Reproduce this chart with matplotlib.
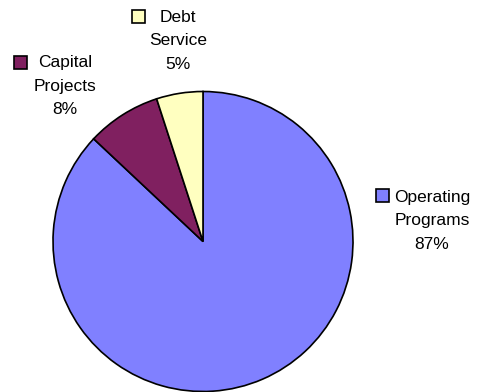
import matplotlib
matplotlib.use("Agg")
import matplotlib.pyplot as plt
from matplotlib.patches import Rectangle

categories = [["Operating", "Programs"], ["Capital", "Projects"], ["Debt", "Service"]]
shares = [87, 8, 5]
colors = ["#8080FF", "#802060", "#FFFFC0"]

W, H = 484, 392
fig = plt.figure(figsize=(W / 100, H / 100), dpi=100)
fig.patch.set_facecolor("white")

def fx(px):
    return px / W

def fy(py):
    return 1 - py / H

# pie axes: centre (203, 241.5), radius 150 px
cx, cy, r = 203, 241.5, 150
ax = fig.add_axes([fx(cx - r), fy(cy + r), 2 * r / W, 2 * r / H])
ax.pie(shares, colors=colors, startangle=90, counterclock=False,
       wedgeprops=dict(edgecolor="black", linewidth=1.2))
ax.set_xlim(-1.0, 1.0)
ax.set_ylim(-1.0, 1.0)
ax.set_aspect("equal")
ax.axis("off")

# label placement: (text centre x, first baseline y, key box left x, key box top y)
label_pos = [(432, 202, 376, 189), (65, 67, 14, 56), (178, 21.7, 132, 10)]
line_step = 23.5

font = dict(family=["Liberation Sans", "DejaVu Sans"], fontsize=12.5, color="black")
for words, val, col, (tx, ty, bx, by) in zip(categories, shares, colors, label_pos):
    lines = words + [f"{val}%"]
    for i, line in enumerate(lines):
        fig.text(fx(tx), fy(ty + i * line_step), line, ha="center", va="baseline",
                 **font, transform=fig.transFigure)
    fig.patches.append(Rectangle((fx(bx), fy(by + 13)), 13 / W, 13 / H,
                                 facecolor=col, edgecolor="black", linewidth=1.2,
                                 transform=fig.transFigure, figure=fig))

fig.savefig("out.png", dpi=100)
